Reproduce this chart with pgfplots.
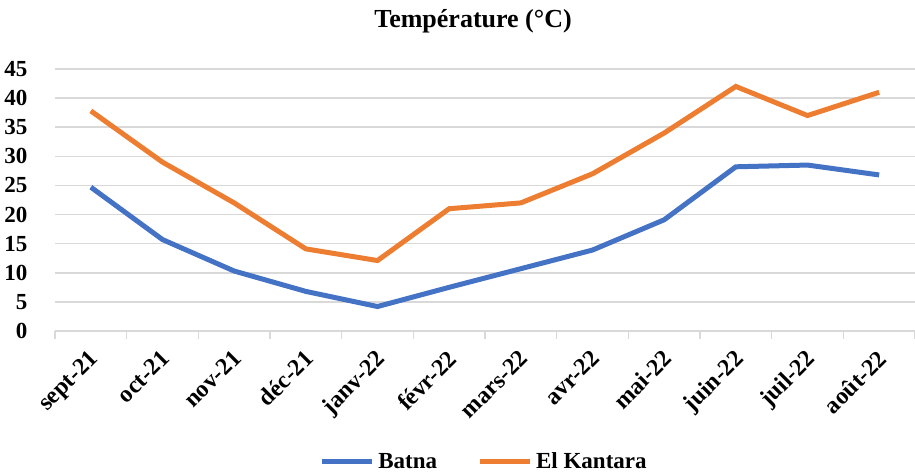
\documentclass[border=0pt]{standalone}
\usepackage{fontspec}
\setmainfont{Liberation Serif}
\usepackage{pgfplots}
\pgfplotsset{compat=1.18}

\definecolor{batna}{HTML}{4472C4}
\definecolor{kantara}{HTML}{ED7D31}
\definecolor{grille}{HTML}{D9D9D9}

\begin{document}
\begin{tikzpicture}
    \begin{axis}[
            scale only axis,
            width=430pt,
            height=131pt,
            xmin=-0.5, xmax=11.5,
            ymin=0, ymax=45,
            xtick={0,...,11},
            xticklabels={sept-21,oct-21,nov-21,déc-21,janv-22,févr-22,mars-22,avr-22,mai-22,juin-22,juil-22,août-22},
            minor xtick={-0.5,0.5,...,11.5},
            ytick={0,5,...,45},
            major x tick style={draw=none},
            minor x tick style={draw=grille, line width=0.8pt},
            minor tick length=4pt,
            tick align=outside,
            major y tick style={draw=none},
            ymajorgrids,
            grid style={grille, line width=0.8pt},
            axis x line*=bottom,
            axis y line*=left,
            x axis line style={grille, line width=0.8pt, -},
            y axis line style={draw=none},
            /pgf/number format/assume math mode=true,
            ticklabel style={font=\fontsize{11.5}{13}\selectfont\bfseries},
            xticklabel style={font=\fontsize{12}{14}\selectfont\bfseries, rotate=45, anchor=north east, inner sep=1pt, yshift=-1pt, xshift=-3pt},
            yticklabel style={xshift=-6pt},
            title={Température (°C)},
            title style={font=\fontsize{13}{15}\selectfont\bfseries, at={(0.5,1)}, anchor=south, yshift=8.5pt, xshift=-6pt},
            legend style={at={(0.5,-0.5)}, anchor=center, draw=none,
                    font=\fontsize{11.5}{13}\selectfont\bfseries,
                    /tikz/every even column/.append style={column sep=18pt}},
            legend columns=2,
            legend image code/.code={\draw[#1, line width=2.5pt] (0pt,0pt) -- (25pt,0pt);},
        ]
        \addplot[batna, line width=2.5pt] coordinates {
            (0,24.7) (1,15.7) (2,10.3) (3,6.8) (4,4.2) (5,7.5)
            (6,10.7) (7,13.9) (8,19.1) (9,28.2) (10,28.5) (11,26.8)
        };
        \addlegendentry{Batna}
        \addplot[kantara, line width=2.5pt] coordinates {
            (0,37.8) (1,29) (2,22) (3,14.1) (4,12.1) (5,21)
            (6,22) (7,27) (8,34) (9,42) (10,37) (11,41)
        };
        \addlegendentry{El Kantara}
    \end{axis}
    \pgfresetboundingbox
    \path ([shift={(-27.5pt,-71pt)}]current axis.south west) rectangle ([shift={(0pt,34.5pt)}]current axis.north east);
\end{tikzpicture}
\end{document}
